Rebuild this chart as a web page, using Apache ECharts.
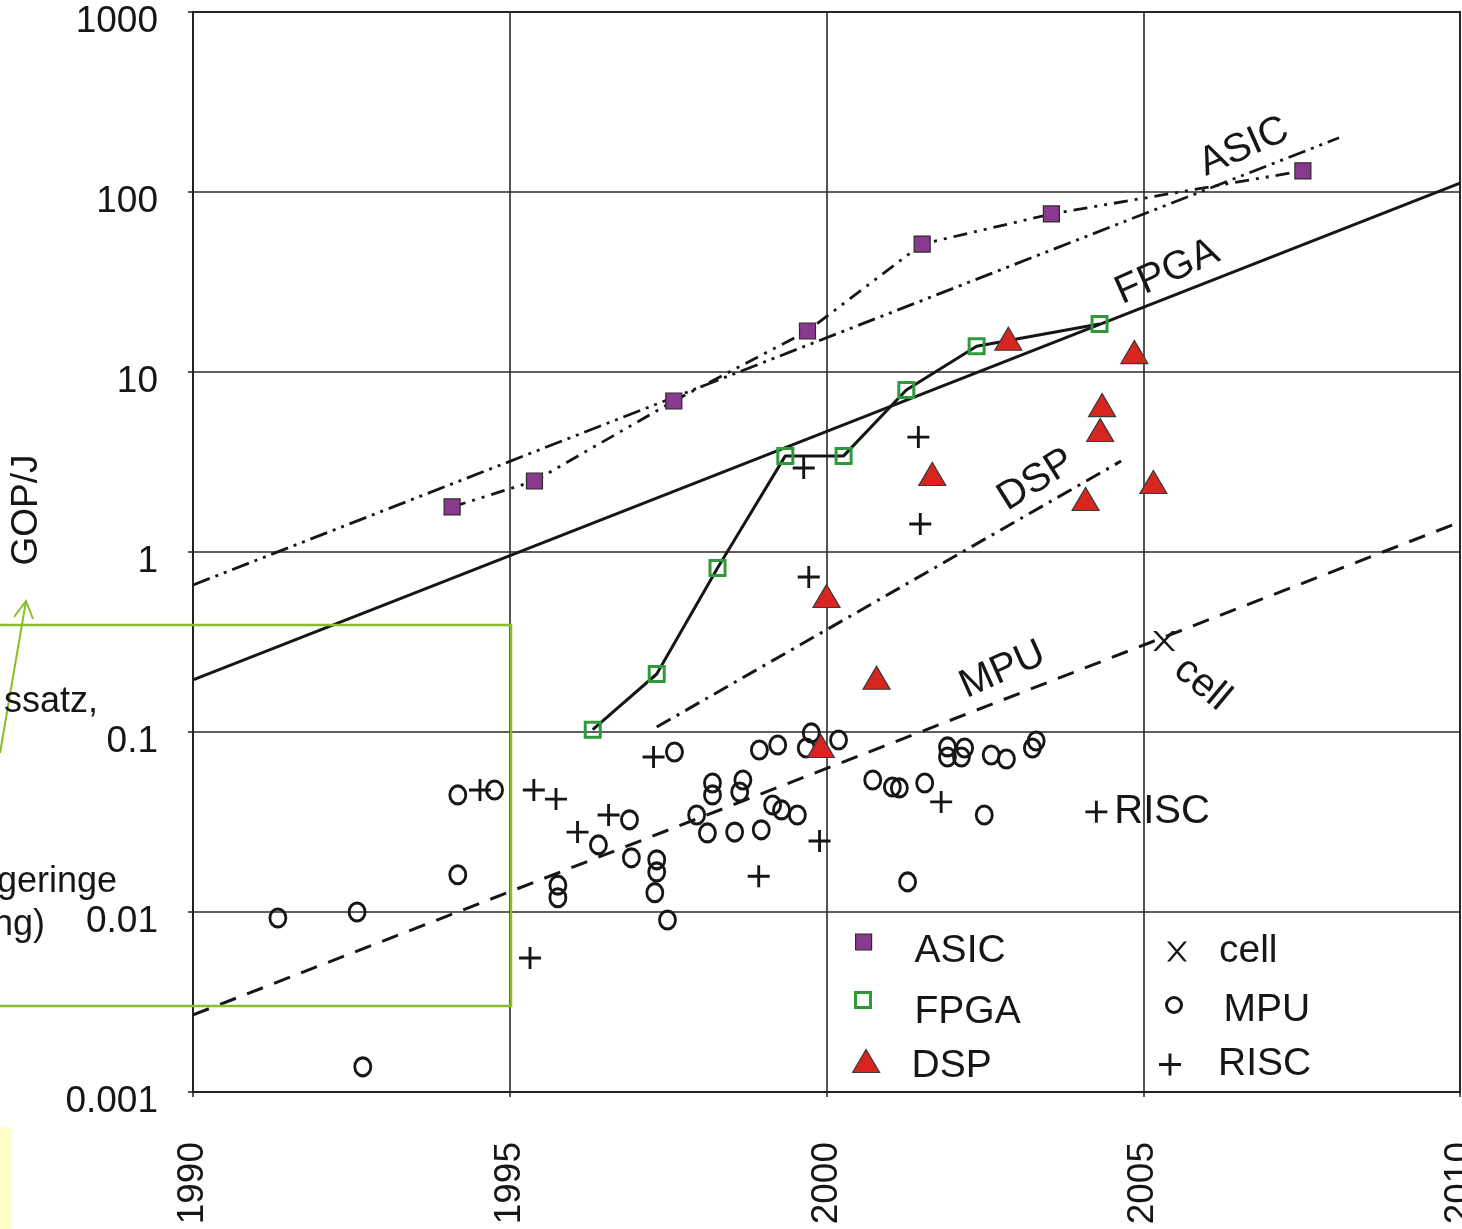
<!DOCTYPE html>
<html>
<head>
<meta charset="utf-8">
<script src="https://cdn.jsdelivr.net/npm/echarts@6/dist/echarts.min.js"></script>
<style>
html,body{margin:0;padding:0;background:#fff;}
#chart{width:1462px;height:1229px;}
</style>
</head>
<body>
<div id="chart"></div>
<script>
// ---------- data ----------
const xTickLabels = ['1990', '1995', '2000', '2005', '2010'];
const yTickLabels = ['0.001', '0.01', '0.1', '1', '10', '100', '1000'];

const asicYears  = [1994.09, 1995.39, 1997.59, 1999.70, 2001.51, 2003.55, 2007.52];
const asicValues = [1.78, 2.48, 6.9, 16.9, 51.4, 75.5, 131];

const fpgaYears  = [1996.31, 1997.32, 1998.28, 1999.35, 2000.27, 2001.26, 2002.37, 2004.31];
const fpgaValues = [0.103, 0.21, 0.815, 3.42, 3.42, 7.94, 13.9, 18.5];

const dspYears  = [2002.87, 2004.86, 2004.35, 2004.32, 2001.67, 2004.09, 2005.16, 2000.00, 2000.79, 1999.91];
const dspValues = [15.3, 12.9, 6.55, 4.76, 2.71, 1.97, 2.45, 0.57, 0.20, 0.0836];

const riscYears  = [1994.53, 1995.38, 1995.73, 1996.56, 1996.07, 1997.27, 1995.32, 1998.93, 1999.64, 1999.72, 1999.89, 2001.45, 2001.48, 2001.81, 2004.26];
const riscValues = [0.0476, 0.0476, 0.0424, 0.0346, 0.0278, 0.0726, 0.00555, 0.0158, 2.93, 0.726, 0.0248, 4.35, 1.43, 0.0409, 0.036];

const mpuYears = [1991.34, 1992.59, 1992.68, 1994.18, 1994.76, 1994.18, 1997.60, 1996.89, 1996.40, 1995.76,
                  1995.76, 1996.92, 1997.32, 1997.32, 1997.29, 1997.49, 1998.94, 1999.23, 1999.76, 1999.68,
                  2000.19, 1998.20, 1998.20, 1998.68, 1998.63, 1997.95, 1998.12, 1998.55, 1998.97, 1999.15,
                  1999.29, 1999.54, 2000.73, 2001.04, 2001.15, 2001.55, 2002.49, 2001.28, 2001.91, 2001.91,
                  2002.18, 2002.13, 2002.60, 2002.84, 2003.31, 2003.25];
const mpuValues = [0.00926, 0.0100, 0.00138, 0.0447, 0.0476, 0.0161, 0.0774, 0.0325, 0.0236, 0.0141,
                   0.0120, 0.0200, 0.0195, 0.0167, 0.0128, 0.00903, 0.0794, 0.0847, 0.0988, 0.0815,
                   0.0903, 0.0521, 0.0447, 0.0541, 0.0464, 0.0346, 0.0275, 0.0278, 0.0286, 0.0393,
                   0.0369, 0.0346, 0.0541, 0.0495, 0.0489, 0.0521, 0.0346, 0.0147, 0.0826, 0.0726,
                   0.0815, 0.0726, 0.0745, 0.0708, 0.0891, 0.0815];

const cellYears  = [2005.33];
const cellValues = [0.32];

// trend lines (end points)
const asicTrendYears  = [1990, 2008.09];
const asicTrendValues = [0.656, 200];
const fpgaTrendYears  = [1990, 2010];
const fpgaTrendValues = [0.195, 112];
const dspTrendYears   = [1997.32, 2004.65];
const dspTrendValues  = [0.1066, 3.2];
const mpuTrendYears   = [1990, 2010];
const mpuTrendValues  = [0.00268, 1.468];

// in-plot annotation texts, anchored in data space
const annotTexts  = ['ASIC', 'FPGA', 'DSP', 'MPU', 'cell'];
const annotYears  = [2006.59, 2005.38, 2003.31, 2002.78, 2005.93];
const annotValues = [178, 35.9, 2.51, 0.221, 0.185];
const annotAngles = [24, 24, 32, 24, -40];
const riscLabelIndex = 14;

// ---------- chart ----------
const zip = (xs, ys) => xs.map((x, i) => [x, ys[i]]);
const FONT = "'Liberation Sans', Arial, Helvetica, sans-serif";
const INK = '#161616';
const PLUS = 'path://M0,43.5L100,43.5L100,56.5L0,56.5Z M43.5,0L56.5,0L56.5,100L43.5,100Z';
const CROSS = 'path://M0,0L15,0L100,100L85,100Z M85,0L100,0L15,100L0,100Z';

const lineSeries = (xs, ys, dash, width) => ({
  type: 'line', data: zip(xs, ys), symbol: 'none', silent: true, z: 1,
  lineStyle: { color: INK, width: width, type: dash, cap: 'butt', opacity: 1 },
  emphasis: { disabled: true }
});

// legend layout: icon box, offset of text below icon centre (gap line), left text padding
const legendDefs = [
  { name: 'ASIC', left: 855,  top: 913,  w: 16, h: 16, dy: 9,  pl: 38, bw: 1.2 },
  { name: 'FPGA', left: 854,  top: 968,  w: 15, h: 15, dy: 12, pl: 39, bw: 3 },
  { name: 'DSP',  left: 852,  top: 1036, w: 27, h: 23, dy: 5,  pl: 27, bw: 1.2 },
  { name: 'cell', left: 1167, top: 932,  w: 22, h: 20, dy: 0,  pl: 26, bw: 0 },
  { name: 'MPU',  left: 1165, top: 980,  w: 15, h: 18, dy: 5,  pl: 37, bw: 3 },
  { name: 'RISC', left: 1159, top: 1045, w: 22, h: 22, dy: 0,  pl: 32, bw: 0 }
];

const green = '#86bf2a';

const option = {
  backgroundColor: '#fff',
  animation: false,
  textStyle: { fontFamily: FONT },
  grid: {
    left: 193, top: 12, width: 1267, height: 1080,
    containLabel: false, outerBoundsMode: 'none',
    show: true, borderColor: '#222', borderWidth: 2, backgroundColor: 'transparent'
  },
  xAxis: {
    type: 'value', min: 1990, max: 2010, interval: 5,
    axisLine: { show: true, lineStyle: { color: '#222', width: 2 } },
    axisTick: { show: true, length: 5, lineStyle: { color: '#222', width: 1.5 } },
    splitLine: { show: true, lineStyle: { color: '#2a2a2a', width: 1.6 } },
    axisLabel: {
      rotate: 90, margin: 50, fontSize: 37, color: INK, fontFamily: FONT,
      showMinLabel: true, showMaxLabel: true,
      formatter: v => xTickLabels[Math.round((v - 1990) / 5)]
    }
  },
  yAxis: {
    type: 'log', logBase: 10, min: 0.001, max: 1000, splitNumber: 6,
    name: 'GOP/J', nameLocation: 'middle', nameRotate: 90, nameGap: 148,
    nameTextStyle: { fontSize: 37, color: INK, fontFamily: FONT, padding: [0, 0, 0, 84] },
    axisLine: { show: true, lineStyle: { color: '#222', width: 2 } },
    axisTick: { show: true, length: 5, lineStyle: { color: '#222', width: 1.5 } },
    minorTick: { show: false },
    splitLine: { show: true, lineStyle: { color: '#2a2a2a', width: 1.6 } },
    axisLabel: {
      margin: 35, fontSize: 37, color: INK, fontFamily: FONT,
      verticalAlign: 'top', lineHeight: 19,
      showMinLabel: true, showMaxLabel: true,
      formatter: v => yTickLabels[Math.round(Math.log10(v)) + 3]
    }
  },
  legend: legendDefs.map(d => ({
    data: [d.name], left: d.left, top: d.top, orient: 'vertical',
    itemWidth: d.w, itemHeight: d.h, padding: 0, selectedMode: false,
    itemStyle: { borderWidth: d.bw },
    formatter: name => (d.dy > 0 ? '{g| }\n' : '') + '{t|' + name + '}',
    textStyle: {
      color: INK, fontFamily: FONT, padding: [0, 0, 0, d.pl],
      rich: {
        g: { fontSize: 2, height: 2 * d.dy, lineHeight: 2 * d.dy },
        t: { fontSize: 39, lineHeight: 40, color: INK, fontFamily: FONT }
      }
    }
  })),
  series: [
    lineSeries(asicTrendYears, asicTrendValues, [18, 6, 3, 6, 3, 6], 2.8),
    lineSeries(asicYears, asicValues, [14, 7, 3, 7, 3, 7], 2.8),
    lineSeries(fpgaTrendYears, fpgaTrendValues, 'solid', 3),
    lineSeries(fpgaYears, fpgaValues, 'solid', 3),
    lineSeries(dspTrendYears, dspTrendValues, [16, 7, 3, 7], 3),
    lineSeries(mpuTrendYears, mpuTrendValues, [17, 12], 3),
    {
      name: 'ASIC', type: 'scatter', data: zip(asicYears, asicValues),
      symbol: 'rect', symbolSize: 16, z: 5, emphasis: { disabled: true },
      itemStyle: { color: '#8a3a8e', borderColor: '#2b2b2b', borderWidth: 1.2, opacity: 1 }
    },
    {
      name: 'FPGA', type: 'scatter', data: zip(fpgaYears, fpgaValues),
      symbol: 'rect', symbolSize: 15, z: 5, emphasis: { disabled: true },
      itemStyle: { color: 'rgba(0,0,0,0)', borderColor: '#2e9b3b', borderWidth: 3, opacity: 1 }
    },
    {
      name: 'DSP', type: 'scatter', data: zip(dspYears, dspValues),
      symbol: 'triangle', symbolSize: [27, 23], z: 5, emphasis: { disabled: true },
      itemStyle: { color: '#d6261f', borderColor: '#3a3a3a', borderWidth: 1.2, opacity: 1 }
    },
    {
      name: 'cell', type: 'scatter', data: zip(cellYears, cellValues),
      symbol: CROSS, symbolSize: [22, 20], z: 5, emphasis: { disabled: true },
      itemStyle: { color: INK, opacity: 1 }
    },
    {
      name: 'MPU', type: 'scatter', data: zip(mpuYears, mpuValues),
      symbol: 'circle', symbolSize: [16, 18], z: 4, emphasis: { disabled: true },
      itemStyle: { color: 'rgba(0,0,0,0)', borderColor: INK, borderWidth: 3, opacity: 1 }
    },
    {
      name: 'RISC', type: 'scatter', data: zip(riscYears, riscValues),
      symbol: PLUS, symbolSize: 22, z: 5, emphasis: { disabled: true },
      itemStyle: { color: INK, opacity: 1 },
      label: {
        show: true, position: 'right', distance: 7, fontSize: 40, color: INK, fontFamily: FONT,
        formatter: p => (p.dataIndex === riscLabelIndex ? 'RISC' : '')
      }
    },
    {
      type: 'scatter', silent: true, symbolSize: 0, z: 6, emphasis: { disabled: true },
      itemStyle: { opacity: 1 },
      data: annotTexts.map((t, i) => ({
        name: t, value: [annotYears[i], annotValues[i]],
        label: { rotate: annotAngles[i] }
      })),
      label: {
        show: true, position: 'inside', formatter: '{b}',
        fontSize: 40, color: INK, fontFamily: FONT, textBorderWidth: 0
      }
    }
  ],
  graphic: [
    { type: 'rect', z: 100, shape: { x: -10, y: 625, width: 521, height: 381 },
      style: { fill: 'none', stroke: green, lineWidth: 2.5 } },
    { type: 'line', z: 100, shape: { x1: 0, y1: 753, x2: 26, y2: 601 },
      style: { stroke: green, lineWidth: 2 } },
    { type: 'polyline', z: 100, shape: { points: [[14, 617], [26, 601], [33, 619]] },
      style: { fill: 'none', stroke: green, lineWidth: 2 } },
    { type: 'text', z: 100, x: 98, y: 702,
      style: { text: 'ssatz,', font: '36px ' + FONT, fill: INK, textAlign: 'right', textVerticalAlign: 'middle', align: 'right', verticalAlign: 'middle' } },
    { type: 'text', z: 100, x: 117, y: 882,
      style: { text: 'geringe', font: '36px ' + FONT, fill: INK, textAlign: 'right', textVerticalAlign: 'middle', align: 'right', verticalAlign: 'middle' } },
    { type: 'text', z: 100, x: 45, y: 925,
      style: { text: 'ng)', font: '36px ' + FONT, fill: INK, textAlign: 'right', textVerticalAlign: 'middle', align: 'right', verticalAlign: 'middle' } },
    { type: 'rect', z: 100, shape: { x: 0, y: 1127, width: 12, height: 102 },
      style: { fill: '#ffffcc' } }
  ]
};

const chart = echarts.init(document.getElementById('chart'), null, { renderer: 'canvas' });
chart.setOption(option);
</script>
</body>
</html>
